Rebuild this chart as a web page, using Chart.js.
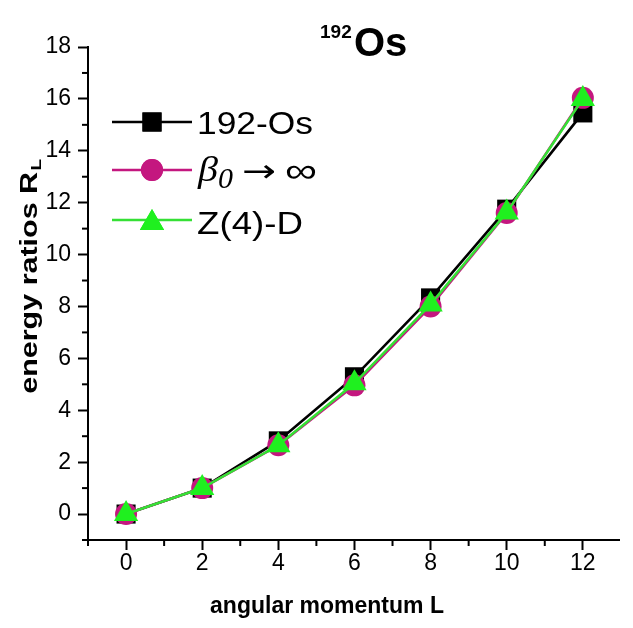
<!DOCTYPE html>
<html>
<head>
<meta charset="utf-8">
<script src="https://cdn.jsdelivr.net/npm/chart.js@4.4.1/dist/chart.umd.min.js"></script>
<style>
  html, body { margin: 0; padding: 0; background: #ffffff; }
  #wrap { width: 633px; height: 628px; position: relative; }
</style>
</head>
<body>
<div id="wrap"><canvas id="c" width="633" height="628"></canvas></div>
<script>
// ---- data ----
const angularMomentum = [0, 2, 4, 6, 8, 10, 12];
const os192 = [0, 1, 2.82, 5.29, 8.33, 11.75, 15.46];
const beta0Inf = [0, 1, 2.65, 4.96, 8.0, 11.6, 16.04];
const z4d = [0, 1, 2.65, 5.04, 8.08, 11.62, 16.0];
const seriesNames = ['192-Os', 'β0 → ∞', 'Z(4)-D'];
const xTickValues = [0, 2, 4, 6, 8, 10, 12];
const yTickValues = [0, 2, 4, 6, 8, 10, 12, 14, 16, 18];
const chartTitleMass = '192';
const chartTitleElement = 'Os';
const xAxisTitle = 'angular momentum L';
const yAxisTitle = 'energy ratios R';
const yAxisTitleSub = 'L';

const SANS = '"Liberation Sans", Arial, Helvetica, sans-serif';
const SERIF = '"Liberation Serif", "Times New Roman", serif';

function pts(ys) { return angularMomentum.map((x, i) => ({ x: x, y: ys[i] })); }

const styles = [
  { line: '#000000', fill: '#000000', shape: 'rect', r: 13.5, order: 3 },
  { line: '#c4177f', fill: '#c4177f', shape: 'circle', r: 11, order: 2 },
  { line: '#35e035', fill: '#1ff01f', shape: 'triangle', r: 14, order: 1 }
];
const seriesData = [os192, beta0Inf, z4d];

const datasets = seriesData.map((d, i) => ({
  label: seriesNames[i],
  data: pts(d),
  order: styles[i].order,
  borderColor: styles[i].line,
  backgroundColor: styles[i].fill,
  pointBackgroundColor: styles[i].fill,
  pointBorderColor: styles[i].fill,
  pointBorderWidth: 0,
  pointStyle: styles[i].shape,
  pointRadius: styles[i].r,
  pointHoverRadius: styles[i].r,
  borderWidth: 2.6,
  tension: 0,
  fill: false
}));

// draw text at x with a horizontal stretch so that it spans the given width
function fitText(ctx, text, x, y, width) {
  const w = ctx.measureText(text).width;
  ctx.save();
  ctx.translate(x, y);
  ctx.scale(width / w, 1);
  ctx.fillText(text, 0, 0);
  ctx.restore();
}

// minor ticks, axis titles, chart title, legend
const decorPlugin = {
  id: 'decor',
  afterDraw(chart) {
    const ctx = chart.ctx;
    const xs = chart.scales.x, ys = chart.scales.y;
    const area = chart.chartArea;
    ctx.save();
    ctx.strokeStyle = '#000';
    ctx.lineWidth = 2;
    // minor ticks
    for (let v = -1; v <= 17; v += 2) {
      const py = ys.getPixelForValue(v);
      ctx.beginPath(); ctx.moveTo(area.left - 6, py); ctx.lineTo(area.left, py); ctx.stroke();
    }
    for (let v = -1; v <= 11; v += 2) {
      const px = xs.getPixelForValue(v);
      ctx.beginPath(); ctx.moveTo(px, area.bottom); ctx.lineTo(px, area.bottom + 6); ctx.stroke();
    }
    // title
    ctx.fillStyle = '#000';
    ctx.textBaseline = 'alphabetic';
    ctx.textAlign = 'left';
    ctx.font = 'bold 19px ' + SANS;
    ctx.fillText(chartTitleMass, 320, 38);
    ctx.font = 'bold 40px ' + SANS;
    ctx.fillText(chartTitleElement, 354, 56);
    // x axis title
    ctx.font = 'bold 23px ' + SANS;
    ctx.textAlign = 'center';
    ctx.fillText(xAxisTitle, 327, 613);
    // y axis title (rotated, stretched along its length, with subscript)
    ctx.save();
    ctx.translate(37, 277);
    ctx.rotate(-Math.PI / 2);
    ctx.scale(1.27, 1);
    ctx.font = 'bold 24px ' + SANS;
    const w1 = ctx.measureText(yAxisTitle).width;
    ctx.font = 'bold 15px ' + SANS;
    const w2 = ctx.measureText(yAxisTitleSub).width;
    const start = -(w1 + w2) / 2;
    ctx.textAlign = 'left';
    ctx.font = 'bold 24px ' + SANS;
    ctx.fillText(yAxisTitle, start, 0);
    ctx.font = 'bold 15px ' + SANS;
    ctx.fillText(yAxisTitleSub, start + w1 + 1, 4);
    ctx.restore();
    // legend
    const rows = [122, 170, 220];
    for (let i = 0; i < 3; i++) {
      const y = rows[i];
      ctx.strokeStyle = styles[i].line;
      ctx.lineWidth = 2.6;
      ctx.beginPath(); ctx.moveTo(112, y); ctx.lineTo(192, y); ctx.stroke();
      ctx.fillStyle = styles[i].fill;
      ctx.strokeStyle = styles[i].fill;
      Chart.helpers.drawPoint(ctx, { pointStyle: styles[i].shape, radius: styles[i].r, borderWidth: 0 }, 152, y + (i === 2 ? 3 : 0));
      ctx.fill();
    }
    ctx.fillStyle = '#000';
    ctx.textAlign = 'left';
    ctx.font = '32px ' + SANS;
    fitText(ctx, seriesNames[0], 197, 134, 116);
    // beta_0 -> infinity
    ctx.font = 'italic 35px ' + SERIF;
    fitText(ctx, 'β', 198, 181, 20);
    ctx.font = 'italic 29px ' + SERIF;
    fitText(ctx, '0', 218, 188, 15);
    ctx.font = '32px "DejaVu Sans", sans-serif';
    fitText(ctx, '→', 242, 182, 34);
    ctx.font = '34px ' + SANS;
    fitText(ctx, '∞', 285, 182, 32);
    ctx.font = '32px ' + SANS;
    fitText(ctx, seriesNames[2], 197, 234, 106);
    ctx.restore();
  }
};

new Chart(document.getElementById('c'), {
  type: 'line',
  data: { datasets: datasets },
  plugins: [decorPlugin],
  options: {
    responsive: false,
    animation: false,
    devicePixelRatio: 1,
    layout: { padding: { top: 47, left: 0, right: 0, bottom: 0 } },
    plugins: { legend: { display: false }, tooltip: { enabled: false }, title: { display: false } },
    scales: {
      x: {
        type: 'linear',
        min: -1,
        max: 12.95,
        afterBuildTicks(scale) { scale.ticks = xTickValues.map(v => ({ value: v })); },
        afterFit(scale) { scale.height = 88; },
        border: { display: true, color: '#000', width: 2 },
        grid: { display: true, drawOnChartArea: false, drawTicks: true, tickLength: 10, tickColor: '#000', tickWidth: 2 },
        ticks: { color: '#000', font: { family: SANS, size: 23 }, padding: 0, maxRotation: 0, autoSkip: false }
      },
      y: {
        type: 'linear',
        min: -1,
        max: 18,
        afterBuildTicks(scale) { scale.ticks = yTickValues.map(v => ({ value: v })); },
        afterFit(scale) { scale.width = 88; },
        border: { display: true, color: '#000', width: 2 },
        grid: { display: true, drawOnChartArea: false, drawTicks: true, tickLength: 10, tickColor: '#000', tickWidth: 2 },
        ticks: { color: '#000', font: { family: SANS, size: 23 }, padding: 7, autoSkip: false }
      }
    }
  }
});
</script>
</body>
</html>
